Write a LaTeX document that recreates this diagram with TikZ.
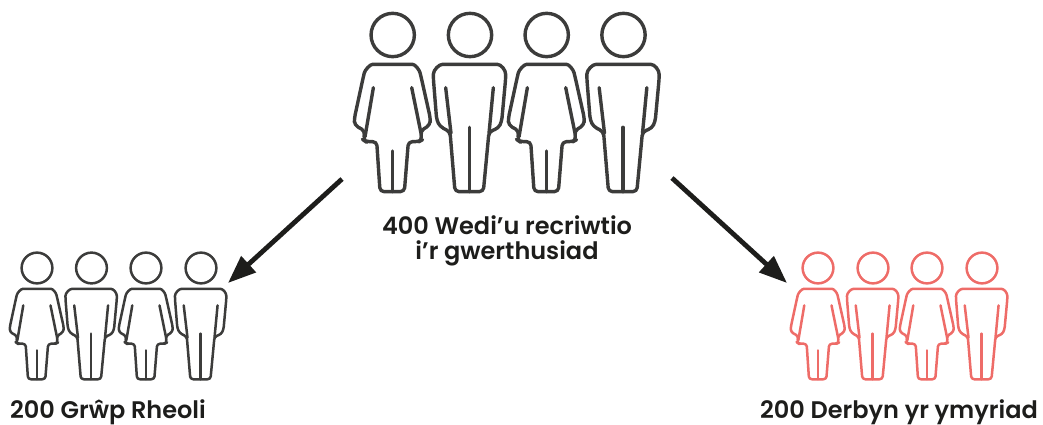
\documentclass[tikz,border=0pt]{standalone}
\usepackage{fontspec}
\setmainfont{Poppins}[BoldFont={Poppins SemiBold}]
\usetikzlibrary{arrows.meta}
\definecolor{ink}{HTML}{3C3C3B}
\definecolor{coral}{HTML}{EE6C68}
\definecolor{arrowink}{HTML}{1D1D1B}
\tikzset{
  x=1pt,y=-1pt,
  bigfig/.style={scale=0.3333,line width=3.4pt,rounded corners=4pt,draw=ink},
  smallfig/.style={scale=0.2367,line width=2.5pt,rounded corners=2.8pt,draw=ink},
  redfig/.style={smallfig,draw=coral},
  woman/.pic={
    \draw[line cap=round,line join=round] (0,0) circle[radius=65];
    \draw[line cap=round,line join=round]
      (0,88) -- (47,88) .. controls (68,88) and (80,105) .. (85,125)
      -- (113,250) -- (112,270) -- (83,288) -- (88,315) -- (79,320) -- (47,320)
      -- (35,470) -- (-38,470) -- (-48,320) -- (-81,320) -- (-88,315) -- (-83,288)
      -- (-115,270) -- (-115,250) -- (-88,125) .. controls (-83,105) and (-68,88) .. (-48,88) -- cycle;
    \draw[line cap=round] (-58,158) -- (-83,305);
    \draw[line cap=round] (57,158) -- (85,295);
    \draw[line cap=round] (0,348) -- (0,470);
  },
  man/.pic={
    \draw[line cap=round,line join=round] (0,0) circle[radius=65];
    \draw[line cap=round,line join=round]
      (0,88) -- (70,88) .. controls (93,88) and (107,105) .. (107,130)
      -- (95,260) -- (85,280) -- (57,290) -- (40,470) -- (-45,470) -- (-60,290)
      -- (-90,275) -- (-100,255) -- (-110,130) .. controls (-110,105) and (-93,88) .. (-70,88) -- cycle;
    \draw[line cap=round] (-73,158) -- (-57,295);
    \draw[line cap=round] (70,158) -- (57,295);
    \draw[line cap=round] (-2,277) -- (-2,470);
  },
  lbl/.style={font=\bfseries\fontsize{24}{25}\selectfont,text=arrowink,inner sep=0pt},
  flow/.style={draw=arrowink,line width=4.8pt,-{Triangle[length=28pt,width=21pt]}},
}
\begin{document}
\begin{tikzpicture}
\useasboundingbox (0,0) rectangle (1043,425);
% top group
\pic[bigfig] (t1) at (392.7,35) {woman};
\pic[bigfig] (t2) at (470,35) {man};
\pic[bigfig] (t3) at (546.7,35) {woman};
\pic[bigfig] (t4) at (623.5,35) {man};
% left group
\pic[smallfig] (l1) at (37,268) {woman};
\pic[smallfig] (l2) at (91.5,268) {man};
\pic[smallfig] (l3) at (146,268) {woman};
\pic[smallfig] (l4) at (201,268) {man};
% right group
\pic[redfig] (r1) at (818,268) {woman};
\pic[redfig] (r2) at (873,268) {man};
\pic[redfig] (r3) at (927,268) {woman};
\pic[redfig] (r4) at (982,268) {man};
% labels
\node[lbl,align=center] (top) at (507,241) {400 Wedi’u recriwtio\\i’r gwerthusiad};
\node[lbl,anchor=base west] (left) at (10,418.5) {200 Grŵp Rheoli};
\node[lbl,anchor=base east] (right) at (1038,418.5) {200 Derbyn yr ymyriad};
% connectors
\coordinate (startl) at (342,179);
\coordinate (endl) at (228,283);
\coordinate (startr) at (672,178);
\coordinate (endr) at (787,283);
\draw[flow] (startl) -- (endl);
\draw[flow] (startr) -- (endr);
\end{tikzpicture}
\end{document}
